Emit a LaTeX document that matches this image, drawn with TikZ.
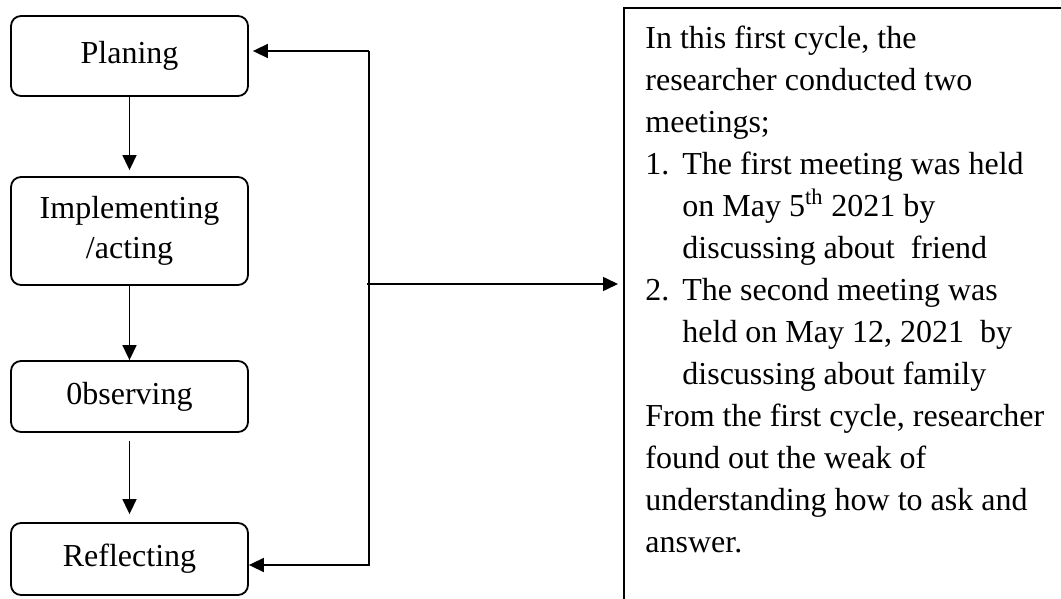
\documentclass[tikz,border=0pt]{standalone}
\usepackage{fontspec}
\setmainfont{Liberation Serif}
\usetikzlibrary{arrows.meta,positioning,calc}
\def\BoxW{118.5pt}
\def\ItemW{18.5pt}
\tikzset{
  stage/.style={draw,rounded corners=5pt,line width=0.9pt,minimum width=\BoxW,
    align=center,font=\fontsize{16}{20}\selectfont},
  flow/.style={line width=0.8pt,-{Triangle[length=7.5pt,width=7pt]}},
}

\begin{document}
\begin{tikzpicture}[x=0.5pt,y=-0.5pt]
  \useasboundingbox (0,0) rectangle (1061,599);
  \clip (0,0) rectangle (1061,599);
  % cycle stages
  \node[stage,minimum height=40pt] (plan) at (129.5,56) {Planing};
  \node[stage,minimum height=54pt] (act) at (129.5,231) {Implementing\\/acting};
  \node[stage,minimum height=35.5pt] (obs) at (129.5,396.5) {0bserving};
  \node[stage,minimum height=36pt] (refl) at (129.5,559) {Reflecting};
  % feedback line
  \coordinate (fbtop) at (369,51);
  \coordinate (fbbot) at (369,565);
  \coordinate (fbmid) at (367,284);
  % note
  \node[anchor=north west,inner xsep=10.5pt,inner ysep=9pt,align=left,
    font=\fontsize{16}{21}\selectfont] (note) at (624,8) {%
    In this first cycle, the\\
    researcher conducted two\\
    meetings;\\
    \makebox[\ItemW][l]{1.}The first meeting was held\\
    \hspace*{\ItemW}on May 5\textsuperscript{th} 2021 by\\
    \hspace*{\ItemW}discussing about~ friend\\
    \makebox[\ItemW][l]{2.}The second meeting was\\
    \hspace*{\ItemW}held on May 12, 2021~ by\\
    \hspace*{\ItemW}discussing about family\\
    From the first cycle, researcher\\
    found out the weak of\\
    understanding how to ask and\\
    answer.};
  \draw[line width=0.9pt] ($(note.north west)+(0,700)$) -- (note.north west) -- ++(600,0);
  % arrows
  \draw[flow,shorten >=3pt] (plan) -- (act);
  \draw[flow] (act) -- (obs);
  \draw[flow,shorten <=4pt,shorten >=4pt] (obs) -- (refl);
  \draw[flow,shorten >=2pt] (fbtop) -- (plan.east |- fbtop);
  \draw[flow] (fbtop) -- (fbbot) -- (refl.east |- fbbot);
  \draw[flow,shorten >=3pt] (fbmid) -- (note.west |- fbmid);
\end{tikzpicture}
\end{document}
